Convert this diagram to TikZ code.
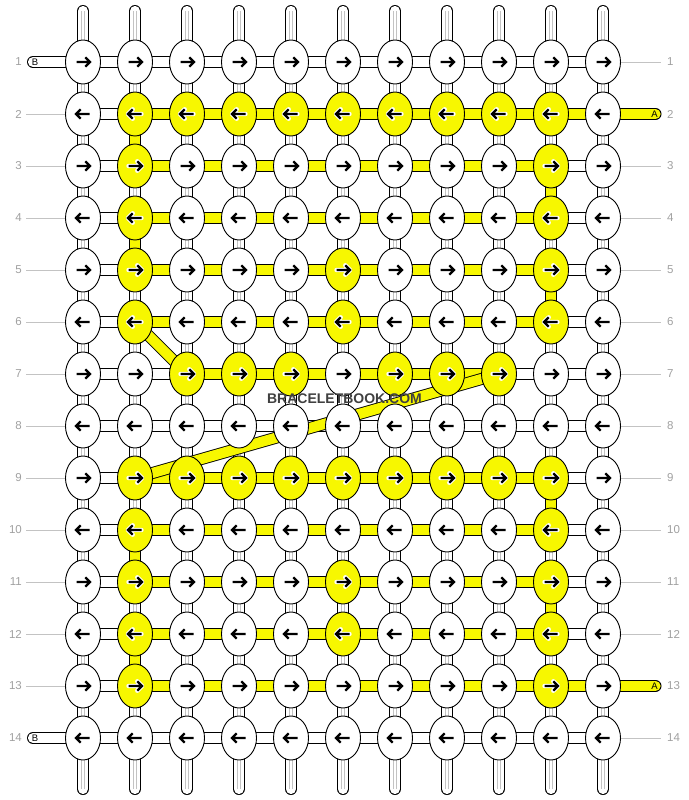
\documentclass[tikz,border=0pt]{standalone}
\usepackage{fontspec}
\setmainfont{Liberation Sans}
\usetikzlibrary{shapes.geometric}
\pgfdeclarelayer{background}
\pgfsetlayers{background,main}
\definecolor{yel}{RGB}{247,247,0}
\definecolor{lblgrey}{RGB}{160,160,160}
\definecolor{lngrey}{RGB}{195,195,195}
\definecolor{wmark}{RGB}{64,64,64}
\begin{document}
\begin{tikzpicture}[x=1pt,y=-1pt,
  knot/.style={ellipse, draw=black, line width=0.9pt, minimum width=35pt, minimum height=44pt, inner sep=0pt},
  wcon/.style={draw=black, line width=0.9pt, double=white, double distance=10.2pt},
  ycon/.style={draw=black, line width=0.9pt, double=yel, double distance=10.2pt},
  gline/.style={draw=lngrey, line width=0.8pt},
  rowline/.style={draw=lngrey, line width=0.9pt},
  lbl/.style={text=lblgrey, font=\fontsize{11.5}{13}\selectfont, inner sep=0pt},
  endlbl/.style={font=\fontsize{9.5}{10}\selectfont, inner sep=0pt},
  wmk/.style={font=\fontsize{14}{16}\selectfont\bfseries, inner sep=0pt},
]
\useasboundingbox (0,0) rectangle (688,800);

% knots
\foreach \rr/\ys in {1/{0},2/{2,3,4,5,6,7,8,9,10},3/{2,10},4/{2,10},5/{2,6,10},6/{2,6,10},7/{3,4,5,7,8,9},8/{0},9/{2,3,4,5,6,7,8,9,10},10/{2,10},11/{2,6,10},12/{2,6,10},13/{2,10},14/{0}} {
  \foreach \cc in {1,...,11} {
    \gdef\kc{white}
    \foreach \y in \ys {\ifnum\y=\cc\relax\gdef\kc{yel}\fi}
    \node[knot, fill=\kc] (k-\rr-\cc) at ({83+52*(\cc-1)}, {62+52*(\rr-1)}) {};
    \pgfmathsetmacro\dir{mod(\rr,2)==1 ? 1 : -1}
    \begin{scope}[shift={(k-\rr-\cc.center)}, xscale=\dir]
      \draw[white, line width=4.4pt, line cap=round, line join=round] (-6.5,0) -- (7,0) (2.3,-4.7) -- (7,0) -- (2.3,4.7);
      \draw[black, line width=2.2pt, line join=miter] (-6.5,0) -- (7,0) (2.3,-4.7) -- (7,0) -- (2.3,4.7);
    \end{scope}
  }
}

% row labels
\foreach \rr in {1,...,14} {
  \node[lbl, anchor=east] (L-\rr) at (22, {62+52*(\rr-1)}) {\rr};
  \node[lbl, anchor=west] (R-\rr) at (667, {62+52*(\rr-1)}) {\rr};
}

% end labels
\node[endlbl] (B-1) at (35,62) {B};
\node[endlbl] (B-14) at (35,738) {B};
\node[endlbl] (A-2) at (654.5,114) {A};
\node[endlbl] (A-13) at (654.5,686) {A};

% watermark
\node[wmk, text=wmark] (wm) at (344.5,399) {BRACELETBOOK.COM};

\begin{pgfonlayer}{background}
  % horizontal connectors
  \foreach \rr/\ys in {1/{0},2/{2,...,10},3/{2,...,9},4/{2,...,9},5/{2,...,9},6/{2,...,9},7/{3,...,8},8/{0},9/{2,...,9},10/{2,...,9},11/{2,...,9},12/{2,...,9},13/{2,...,10},14/{0}} {
    \foreach \cc [evaluate=\cc as \nc using int(\cc+1)] in {1,...,10} {
      \gdef\hc{wcon}
      \foreach \y in \ys {\ifnum\y=\cc\relax\gdef\hc{ycon}\fi}
      \draw[\hc] (k-\rr-\cc.center) -- (k-\rr-\nc.center);
    }
  }
  % vertical connectors
  \foreach \cc/\ys in {1/{0},2/{2,4,10,12},3/{0},4/{0},5/{0},6/{0},7/{0},8/{0},9/{0},10/{3,5,9,11},11/{0}} {
    \foreach \rr [evaluate=\rr as \nr using int(\rr+1)] in {1,...,13} {
      \gdef\vyel{0}
      \foreach \y in \ys {\ifnum\y=\rr\relax\gdef\vyel{1}\fi}
      \ifnum\vyel=1
        \draw[ycon] (k-\rr-\cc.center) -- (k-\nr-\cc.center);
      \else
        \draw[wcon] (k-\rr-\cc.center) -- (k-\nr-\cc.center);
        \draw[gline] ([xshift=-1.7pt]k-\rr-\cc.center) -- ([xshift=-1.7pt]k-\nr-\cc.center);
        \draw[gline] ([xshift=1.7pt]k-\rr-\cc.center) -- ([xshift=1.7pt]k-\nr-\cc.center);
      \fi
    }
  }
  % top and bottom strand ends
  \foreach \cc in {1,...,11} {
    \coordinate (t-\cc) at ({83+52*(\cc-1)}, 11);
    \coordinate (u-\cc) at ({83+52*(\cc-1)}, 789);
    \draw[wcon, line cap=round] (t-\cc) -- (k-1-\cc.center);
    \draw[wcon, line cap=round] (u-\cc) -- (k-14-\cc.center);
    \draw[gline] ([xshift=-1.7pt]t-\cc) -- ([xshift=-1.7pt]k-1-\cc.center);
    \draw[gline] ([xshift=1.7pt]t-\cc) -- ([xshift=1.7pt]k-1-\cc.center);
    \draw[gline] ([xshift=-1.7pt]u-\cc) -- ([xshift=-1.7pt]k-14-\cc.center);
    \draw[gline] ([xshift=1.7pt]u-\cc) -- ([xshift=1.7pt]k-14-\cc.center);
  }
  % side strands
  \coordinate (bl-1) at (33,62);
  \coordinate (bl-14) at (33,738);
  \coordinate (ar-2) at (655.5,114);
  \coordinate (ar-13) at (655.5,686);
  \draw[wcon, line cap=round] (bl-1) -- (k-1-1.center);
  \draw[wcon, line cap=round] (bl-14) -- (k-14-1.center);
  \draw[ycon, line cap=round] (ar-2) -- (k-2-11.center);
  \draw[ycon, line cap=round] (ar-13) -- (k-13-11.center);
  % row guide lines
  \foreach \rr in {2,...,13} {
    \coordinate (gl-\rr) at (26, {62+52*(\rr-1)});
    \draw[rowline] (gl-\rr) -- (k-\rr-1);
  }
  \foreach \rr in {1,3,4,5,6,7,8,9,10,11,12,14} {
    \coordinate (gr-\rr) at (661, {62+52*(\rr-1)});
    \draw[rowline] (k-\rr-11) -- (gr-\rr);
  }
  % diagonal strands
  \draw[ycon] (k-6-2.center) -- (k-7-3.center);
  \draw[ycon] (k-7-9.center) -- (k-9-2.center);
\end{pgfonlayer}
\end{tikzpicture}
\end{document}
